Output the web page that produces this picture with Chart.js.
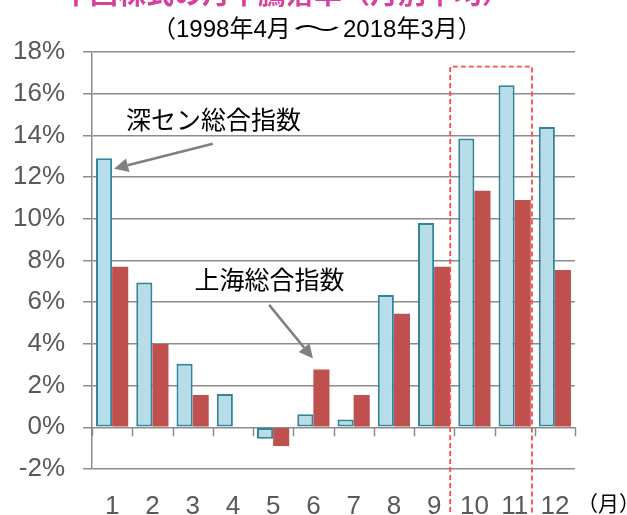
<!DOCTYPE html>
<html>
<head>
<meta charset="utf-8">
<script src="https://cdn.jsdelivr.net/npm/chart.js@4.4.1/dist/chart.umd.min.js"></script>
<style>
  html, body { margin: 0; padding: 0; background: #fff; }
</style>
</head>
<body>
<canvas id="chartMonth" width="627" height="515"></canvas>
<script>
const months = ['1', '2', '3', '4', '5', '6', '7', '8', '9', '10', '11', '12'];
const shenzhen = [12.9, 6.95, 3.05, 1.6, -0.55, 0.62, 0.38, 6.35, 9.8, 13.85, 16.4, 14.4];
const shanghai = [7.7, 4.0, 1.55, 0, -0.9, 2.77, 1.55, 5.45, 7.7, 11.35, 10.9, 7.55];
const yTicks = [-2, 0, 2, 4, 6, 8, 10, 12, 14, 16, 18];

const titleText = '中国株式の月中騰落率（月別平均）';
const subLeft = '（1998年4月';
const subRight = '2018年3月）';

const latin = '"Liberation Sans", "Noto Sans CJK JP", sans-serif';
const cjk = '"Noto Sans CJK JP", "Liberation Sans", sans-serif';
const gridGray = '#8c8c8c';

// labels + arrows + red dashed box
const extras = {
    id: 'extras',
    afterDraw(chart) {
        const ctx = chart.ctx;
        const xs = chart.scales.x;
        const ys = chart.scales.y;
        const catW = xs.width / months.length;
        const px = (cat, v) => ({ x: xs.getPixelForValue(0) + cat * catW, y: ys.getPixelForValue(v) });

        ctx.save();

        // tick marks hanging from the 0% line
        const y0 = ys.getPixelForValue(0);
        ctx.strokeStyle = gridGray;
        ctx.lineWidth = 1.5;
        for (let i = 0; i <= months.length; i++) {
            const x = Math.round(xs.left + i * catW) + 0.5;
            ctx.beginPath();
            ctx.moveTo(x, y0);
            ctx.lineTo(x, y0 + 9);
            ctx.stroke();
        }

        // title (cut off at the top)
        ctx.textAlign = 'center';
        ctx.fillStyle = '#d6409f';
        ctx.font = 'bold 28px ' + cjk;
        ctx.textBaseline = 'alphabetic';
        ctx.fillText(titleText, 286, 4);

        // subtitle, with the wide tilde of the original
        ctx.fillStyle = '#000';
        ctx.font = '24px ' + latin;
        ctx.textBaseline = 'middle';
        ctx.textAlign = 'left';
        const leftEnd = 152 + ctx.measureText(subLeft).width;
        ctx.fillText(subLeft, 152, 30);
        ctx.fillText(subRight, 343, 30);
        ctx.save();
        ctx.translate((leftEnd + 343) / 2, 30);
        ctx.scale(2.0, 1);
        ctx.textAlign = 'center';
        ctx.fillText('～', 0, 0);
        ctx.restore();

        // annotations
        ctx.textAlign = 'center';
        ctx.font = '25px ' + cjk;
        ctx.fillText('深セン総合指数', px(2.52, 14.75).x, px(2.52, 14.75).y);
        ctx.fillText('上海総合指数', px(3.91, 7.07).x, px(3.91, 7.07).y);

        const arrow = (a, b) => {
            const ang = Math.atan2(b.y - a.y, b.x - a.x);
            const head = 14, half = 7;
            const bx = b.x - head * Math.cos(ang), by = b.y - head * Math.sin(ang);
            ctx.strokeStyle = '#808080';
            ctx.fillStyle = '#808080';
            ctx.lineWidth = 2.5;
            ctx.beginPath();
            ctx.moveTo(a.x, a.y);
            ctx.lineTo(bx, by);
            ctx.stroke();
            ctx.beginPath();
            ctx.moveTo(b.x, b.y);
            ctx.lineTo(bx + half * Math.sin(ang), by - half * Math.cos(ang));
            ctx.lineTo(bx - half * Math.sin(ang), by + half * Math.cos(ang));
            ctx.closePath();
            ctx.fill();
        };
        arrow(px(2.5, 13.6), px(0.05, 12.4));
        arrow(px(3.9, 5.87), px(4.99, 3.3));

        // red dashed box around Oct/Nov
        const tl = px(8.4, 17.3);
        const br = px(10.43, 0);
        ctx.strokeStyle = '#ff4d4d';
        ctx.lineWidth = 1.8;
        ctx.setLineDash([5, 3]);
        ctx.beginPath();
        ctx.moveTo(tl.x, chart.height + 5);
        ctx.lineTo(tl.x, tl.y);
        ctx.lineTo(br.x, tl.y);
        ctx.lineTo(br.x, chart.height + 5);
        ctx.stroke();
        ctx.setLineDash([]);

        // unit label
        ctx.fillStyle = '#000';
        ctx.textAlign = 'left';
        ctx.font = '21px ' + cjk;
        ctx.fillText('（月）', xs.right + 2, 503);

        ctx.restore();
    }
};

new Chart(document.getElementById('chartMonth'), {
    type: 'bar',
    data: {
        labels: months,
        datasets: [{
            label: '深セン総合指数',
            data: shenzhen,
            backgroundColor: '#b7dde8',
            borderColor: '#31849b',
            borderWidth: 2,
            borderSkipped: false
        }, {
            label: '上海総合指数',
            data: shanghai,
            backgroundColor: '#c0504d',
            borderWidth: 0
        }]
    },
    options: {
        responsive: false,
        animation: false,
        devicePixelRatio: 1,
        layout: {
            padding: { top: 52, right: 52, bottom: 0, left: 0 }
        },
        plugins: {
            legend: { display: false },
            tooltip: { enabled: false }
        },
        datasets: {
            bar: { categoryPercentage: 0.8, barPercentage: 1.0 }
        },
        scales: {
            x: {
                grid: { display: false },
                border: { display: false },
                ticks: {
                    color: '#595959',
                    font: { family: latin, size: 26, lineHeight: 1 },
                    padding: 17
                },
                afterFit: (s) => { s.height = 46; }
            },
            y: {
                min: -2,
                max: 18,
                afterBuildTicks: (s) => { s.ticks = yTicks.map(v => ({ value: v })); },
                grid: {
                    color: gridGray,
                    lineWidth: 1.5,
                    tickLength: 9
                },
                border: { display: true, color: gridGray, width: 1.5 },
                ticks: {
                    color: '#595959',
                    font: { family: latin, size: 26 },
                    padding: 18,
                    callback: (v) => v + '%'
                },
                afterFit: (s) => { s.width = 92; }
            }
        }
    },
    plugins: [extras]
});
</script>
</body>
</html>
